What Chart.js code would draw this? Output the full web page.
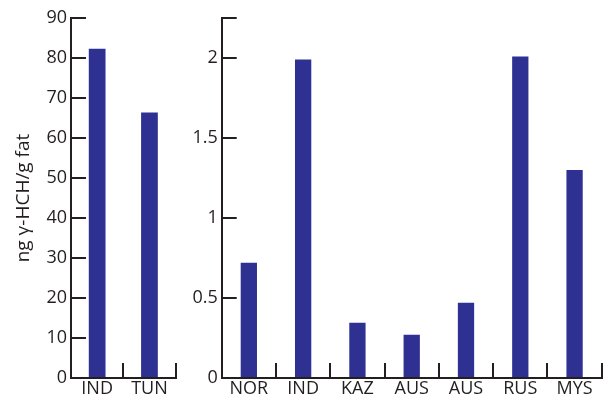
<!DOCTYPE html>
<html>
<head>
<meta charset="utf-8">
<script src="https://cdn.jsdelivr.net/npm/chart.js@4/dist/chart.umd.min.js"></script>
<style>
  html, body { margin: 0; padding: 0; background: #fff; }
  #wrap { position: relative; width: 608px; height: 403px; }
  #c1 { position: absolute; left: 0; top: 0; }
  #c2 { position: absolute; left: 180px; top: 0; }
</style>
</head>
<body>
<div id="wrap">
  <canvas id="c1" width="185" height="403"></canvas>
  <canvas id="c2" width="428" height="403"></canvas>
</div>
<script>
const leftCategories = ['IND', 'TUN'];
const leftValues = [82.3, 66.4];
const leftTicks = [0, 10, 20, 30, 40, 50, 60, 70, 80, 90];

const rightCategories = ['NOR', 'IND', 'KAZ', 'AUS', 'AUS', 'RUS', 'MYS'];
const rightValues = [0.72, 1.99, 0.345, 0.27, 0.47, 2.01, 1.30];
const rightTicks = [0, 0.5, 1, 1.5, 2, 2.25];

const yTitle = 'ng γ-HCH/g fat';

const BAR = '#2e3192';
const INK = '#231f20';
const FONT = "'Open Sans', sans-serif";
const TL = 15;

function makeChart(id, cats, vals, tickVals, opts) {
  return new Chart(document.getElementById(id), {
    type: 'bar',
    data: {
      labels: cats,
      datasets: [{
        data: vals,
        backgroundColor: BAR,
        borderWidth: 0,
        categoryPercentage: 1,
        barPercentage: opts.barPct
      }]
    },
    options: {
      responsive: false,
      animation: false,
      events: [],
      layout: { padding: opts.padding },
      plugins: { legend: { display: false }, tooltip: { enabled: false } },
      scales: {
        x: {
          offset: true,
          border: { display: true, color: INK, width: 2 },
          grid: {
            offset: true,
            drawOnChartArea: false,
            drawTicks: true,
            tickLength: -TL,
            color: INK,
            lineWidth: 2
          },
          ticks: {
            color: INK,
            font: { family: FONT, size: 18 },
            padding: TL + 0,
            maxRotation: 0,
            autoSkip: false
          },
          afterFit: (s) => { s.height = 25; }
        },
        y: {
          min: 0,
          max: opts.max,
          afterBuildTicks: (s) => { s.ticks = tickVals.map(v => ({ value: v })); },
          border: { display: true, color: INK, width: 2 },
          grid: {
            drawOnChartArea: false,
            drawTicks: true,
            tickLength: -TL,
            color: INK,
            lineWidth: 2
          },
          ticks: {
            color: INK,
            font: { family: FONT, size: 18 },
            padding: TL + 4,
            callback: (v) => (opts.hide && opts.hide.includes(v)) ? '' : String(v)
          },
          title: opts.title ? {
            display: true,
            text: opts.title,
            color: INK,
            font: { family: FONT, size: 19 },
            padding: { top: 12, bottom: 0 }
          } : { display: false },
          afterFit: (s) => { s.width = opts.yWidth; s.paddingTop = 0; s.paddingBottom = 0; }
        }
      }
    }
  });
}

makeChart('c1', leftCategories, leftValues, leftTicks, {
  max: 90, barPct: 0.32, yWidth: 71, title: yTitle,
  padding: { top: 18, right: 9, bottom: 0, left: 0 }
});

makeChart('c2', rightCategories, rightValues, rightTicks, {
  max: 2.25, barPct: 0.3, yWidth: 41.7, hide: [2.25],
  padding: { top: 18, right: 5, bottom: 0, left: 0 }
});
</script>
</body>
</html>
